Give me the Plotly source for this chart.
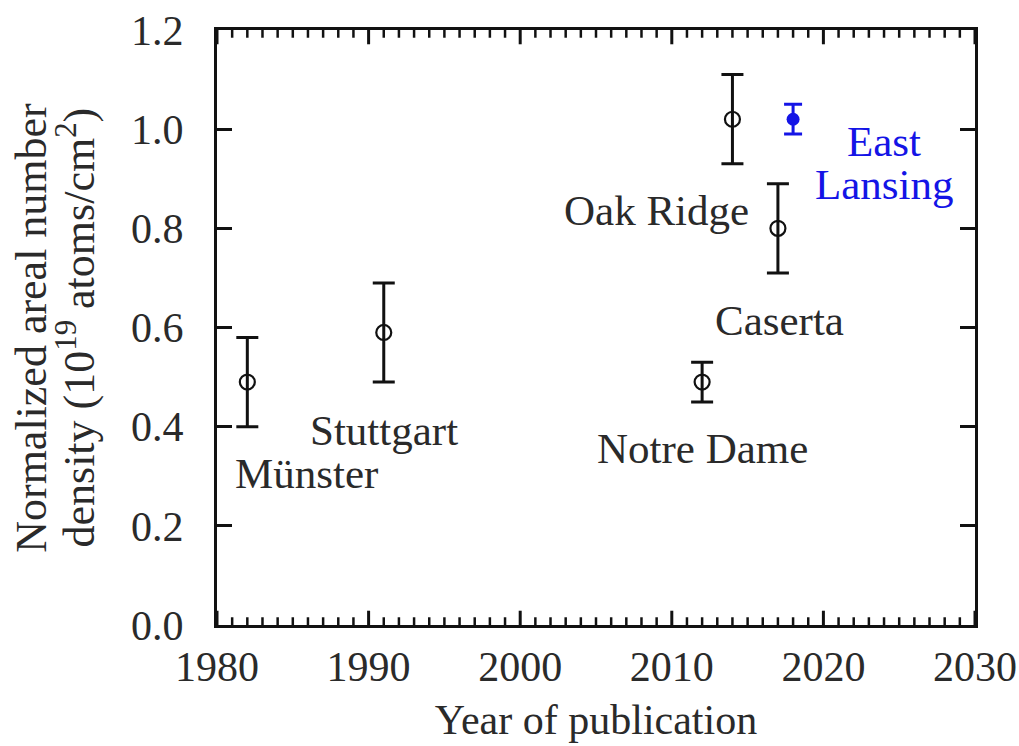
import plotly.graph_objects as go

# Measurements: year of publication, normalized areal density and uncertainty
labs = ["Münster", "Stuttgart", "Notre Dame", "Oak Ridge", "Caserta"]
years = [1982, 1991, 2012, 2014, 2017]
density = [0.49, 0.59, 0.49, 1.02, 0.80]
err = [0.09, 0.10, 0.04, 0.09, 0.09]

new_lab_lines = ["East", "Lansing"]
new_year = [2018]
new_density = [1.02]
new_err = [0.03]

# label anchor positions (data coords) for each lab name
lab_x = [1985.9, 1991.0, 2012.0, 2009.0, 2017.1]
lab_y = [0.305, 0.393, 0.355, 0.835, 0.615]
new_lab_x = [2024.0, 2024.0]
new_lab_y = [0.975, 0.888]

# axis ticks
decades = [1980, 1990, 2000, 2010, 2020, 2030]
every_year = list(range(1980, 2031))
y_ticks = [0.0, 0.2, 0.4, 0.6, 0.8, 1.0, 1.2]

FONT = "Liberation Serif"
INK = "#111111"
TXT = "#2a2a2a"
BLUE = "#1414e6"

fig = go.Figure()
fig.add_trace(go.Scatter(
    x=years, y=density, mode="markers",
    marker=dict(symbol="circle-open", size=15, color=INK, line=dict(width=2.2, color=INK)),
    error_y=dict(type="data", array=err, visible=True, color=INK, thickness=3, width=11),
    showlegend=False,
))
fig.add_trace(go.Scatter(
    x=new_year, y=new_density, mode="markers",
    marker=dict(symbol="circle", size=13, color=BLUE),
    error_y=dict(type="data", array=new_err, visible=True, color=BLUE, thickness=3, width=9),
    showlegend=False,
))

for name, lx, ly in zip(labs, lab_x, lab_y):
    fig.add_annotation(x=lx, y=ly, xref="x", yref="y", text=name, showarrow=False,
                       font=dict(family=FONT, size=43, color=TXT),
                       xanchor="center", yanchor="middle")
for line, lx, ly in zip(new_lab_lines, new_lab_x, new_lab_y):
    fig.add_annotation(x=lx, y=ly, xref="x", yref="y", text=line, showarrow=False,
                       font=dict(family=FONT, size=43, color=BLUE),
                       xanchor="center", yanchor="middle")

# two-line y axis title, placed as separate lines to keep them close together
fig.add_annotation(x=-0.245, y=0.5, xref="paper", yref="paper", text="Normalized areal number",
                   textangle=-90, showarrow=False, xanchor="center", yanchor="middle",
                   font=dict(family=FONT, size=44, color=TXT))
fig.add_annotation(x=-0.186, y=0.5, xref="paper", yref="paper",
                   text="density (10<sup>19</sup> atoms/cm<sup>2</sup>)",
                   textangle=-90, showarrow=False, xanchor="center", yanchor="middle",
                   font=dict(family=FONT, size=44, color=TXT))

# inward ticks along bottom and top edges: short every year, long every decade
for yr in every_year:
    frac = 0.024 if yr in decades else 0.013
    w = 3 if yr in decades else 2.5
    fig.add_shape(type="line", xref="x", yref="y domain", x0=yr, x1=yr, y0=0, y1=frac,
                  line=dict(color=INK, width=w), layer="above")
    fig.add_shape(type="line", xref="x", yref="y domain", x0=yr, x1=yr, y0=1, y1=1 - frac,
                  line=dict(color=INK, width=w), layer="above")

fig.update_xaxes(
    range=[1980, 2030], tickmode="array", tickvals=decades, ticks="",
    showline=True, linewidth=3, linecolor=INK, mirror=True,
    showgrid=False, zeroline=False, automargin=False,
    tickfont=dict(family=FONT, size=42, color=TXT),
    ticklabelstandoff=3,
    title=dict(text="Year of publication", font=dict(family=FONT, size=42, color=TXT), standoff=16),
)
fig.update_yaxes(
    range=[0, 1.2], tickmode="array", tickvals=y_ticks, tickformat=".1f",
    ticks="inside", ticklen=15, tickwidth=2.5, tickcolor=INK,
    showline=True, linewidth=3, linecolor=INK, mirror="allticks",
    showgrid=False, zeroline=False, automargin=False,
    tickfont=dict(family=FONT, size=42, color=TXT),
    ticklabelstandoff=22,
)

fig.update_layout(
    width=1019, height=746,
    margin=dict(l=217, r=44, t=30, b=121),
    paper_bgcolor="white", plot_bgcolor="white",
)

fig.write_html("out.html")
